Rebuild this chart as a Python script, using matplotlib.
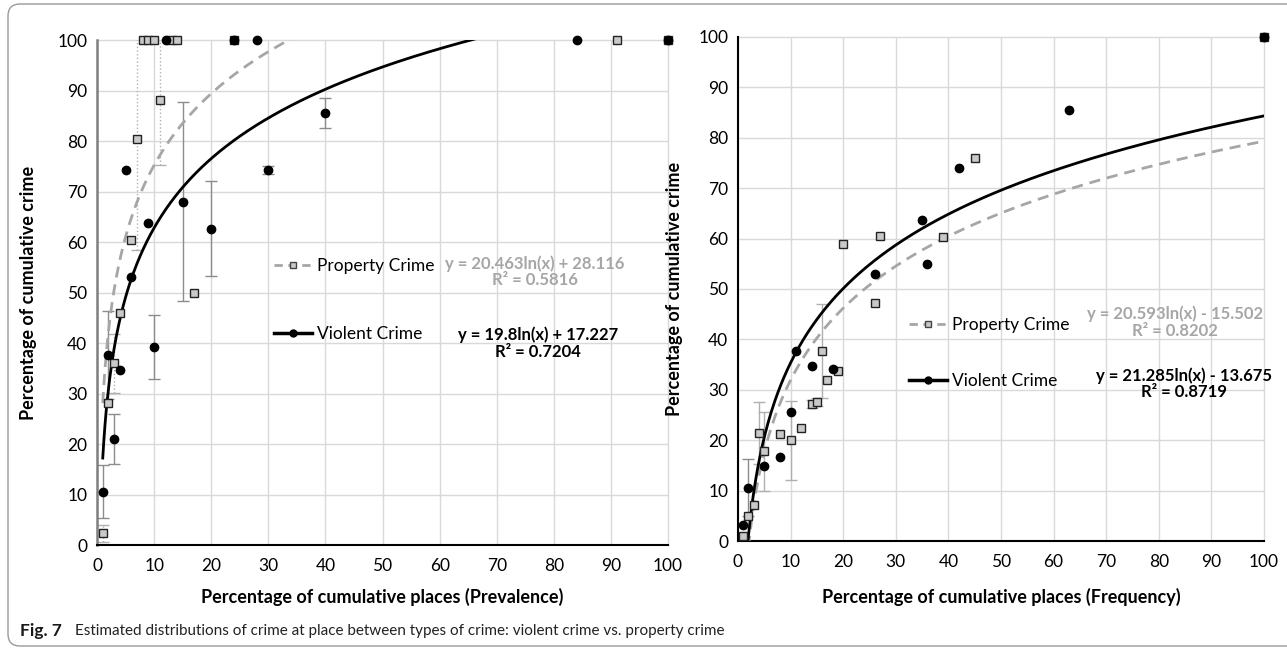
import numpy as np
import matplotlib.pyplot as plt
from matplotlib.lines import Line2D
from matplotlib.patches import FancyBboxPatch

plt.rcParams['font.family'] = ['Lato', 'DejaVu Sans']

# ---- Prevalence panel (left) ----
viol_prev_x = [1, 2, 3, 4, 5, 6, 9, 10, 12, 15, 20, 24, 28, 30, 40, 84, 100]
viol_prev_y = [10.6, 37.7, 21.0, 34.6, 74.2, 53.0, 63.8, 39.2, 100, 68.0, 62.6, 100, 100, 74.2, 85.6, 100, 100]
viol_prev_err = [5.2, 8.7, 5.0, 0, 0, 0, 0, 6.3, 0, 19.7, 9.4, 0, 0, 0.8, 3.0, 0, 0]

prop_prev_x = [1, 2, 3, 4, 6, 7, 8, 9, 10, 11, 13, 14, 17, 24, 91, 100]
prop_prev_y = [2.3, 28.2, 36.0, 46.0, 60.5, 80.5, 100, 100, 100, 88.2, 100, 100, 50.0, 100, 100, 100]
prop_prev_err = [1.7, 0, 5.8, 0, 0, 22.0, 0, 0, 0, 13.0, 0, 0, 0, 0, 0, 0]

# ---- Frequency panel (right) ----
viol_freq_x = [1, 2, 5, 8, 10, 11, 14, 18, 26, 35, 36, 42, 63, 100]
viol_freq_y = [3.1, 10.6, 14.9, 16.6, 25.6, 37.6, 34.7, 34.2, 53.0, 63.6, 55.0, 74.0, 85.5, 100]
viol_freq_err = [0, 5.7, 0, 0, 0, 0, 0, 0, 0, 0, 0, 0, 0, 0]

prop_freq_x = [1, 2, 3, 4, 5, 8, 10, 12, 14, 15, 16, 17, 19, 20, 26, 27, 39, 45, 100]
prop_freq_y = [0.9, 5.0, 7.2, 21.4, 17.8, 21.2, 20.0, 22.4, 27.1, 27.5, 37.7, 31.9, 33.8, 59.0,
               47.2, 60.6, 60.4, 75.9, 100]
prop_freq_err = [0, 0, 0, 6.2, 7.8, 0, 7.8, 0, 0.8, 0.8, 9.4, 0, 0, 0, 0, 0, 0, 0, 0]

# log trendlines (slope, intercept) as printed on the chart
viol_prev_fit = (19.8, 17.227)
prop_prev_fit = (20.463, 28.116)
viol_freq_fit = (21.285, -13.675)
prop_freq_fit = (20.593, -15.502)

eq_labels = {
    'prop_prev': 'y = 20.463ln(x) + 28.116\nR² = 0.5816',
    'viol_prev': 'y = 19.8ln(x) + 17.227\nR² = 0.7204',
    'prop_freq': 'y = 20.593ln(x) - 15.502\nR² = 0.8202',
    'viol_freq': 'y = 21.285ln(x) - 13.675\nR² = 0.8719',
}

ticks = list(range(0, 101, 10))

GREY_LINE = '#a6a6a6'
SQ_FACE = '#c9c9c9'
GRID = '#d9d9d9'


def draw_errors(ax, x, y, e, color, ls):
    x = np.asarray(x); y = np.asarray(y); e = np.asarray(e)
    m = e > 0
    if m.any():
        _, caps, bars = ax.errorbar(x[m], y[m], yerr=e[m], fmt='none', ecolor=color,
                                    elinewidth=1, capsize=4, capthick=1, zorder=2)
        for b in bars:
            b.set_linestyle(ls)


def draw_panel(ax, vx, vy, ve, px, py, pe, vfit, pfit, prop_err_style):
    draw_errors(ax, px, py, pe, '#b0b0b0', prop_err_style)
    draw_errors(ax, vx, vy, ve, '#8c8c8c', '-')

    xf = np.linspace(1, 100, 500)
    ax.plot(xf, pfit[0] * np.log(xf) + pfit[1], color=GREY_LINE, lw=2,
            ls=(0, (4, 2.5)), zorder=4)
    ax.plot(xf, vfit[0] * np.log(xf) + vfit[1], color='black', lw=2, zorder=4)

    ax.plot(px, py, ls='none', marker='s', ms=6, mfc=SQ_FACE, mec='#222222', mew=1,
            zorder=5, clip_on=False)
    ax.plot(vx, vy, ls='none', marker='o', ms=6, mfc='black', mec='black', zorder=6,
            clip_on=False)

    ax.set_xlim(0, 100)
    ax.set_ylim(0, 100)
    ax.set_xticks(ticks)
    ax.set_yticks(ticks)
    ax.grid(True, color=GRID, lw=1)
    ax.set_axisbelow(True)
    ax.tick_params(length=0, labelsize=12.5)
    ax.tick_params(axis='x', pad=9)
    ax.tick_params(axis='y', pad=7)
    for s in ['top', 'right']:
        ax.spines[s].set_visible(False)
    ax.spines['bottom'].set_color('black')
    ax.spines['bottom'].set_linewidth(1.5)
    for a in (ax.xaxis.get_gridlines()[-1], ax.yaxis.get_gridlines()[-1]):
        a.set_clip_on(False)

    handles = [
        Line2D([], [], color=GREY_LINE, lw=2, ls=(0, (3, 2)), marker='s', ms=5,
               mfc=SQ_FACE, mec='#444444'),
        Line2D([], [], color='black', lw=2.5, marker='o', ms=5, mfc='black'),
    ]
    return handles


fig = plt.figure(figsize=(12.87, 6.49), dpi=100)
ax1 = fig.add_axes([0.0754, 0.1602, 0.4437, 0.778])
ax2 = fig.add_axes([0.5734, 0.1664, 0.4087, 0.7766])

h1 = draw_panel(ax1, viol_prev_x, viol_prev_y, viol_prev_err,
                prop_prev_x, prop_prev_y, prop_prev_err,
                viol_prev_fit, prop_prev_fit, ':')
ax1.spines['left'].set_color('#7f7f7f')
ax1.spines['left'].set_linewidth(1.8)

h2 = draw_panel(ax2, viol_freq_x, viol_freq_y, viol_freq_err,
                prop_freq_x, prop_freq_y, prop_freq_err,
                viol_freq_fit, prop_freq_fit, '-')
ax2.spines['left'].set_color('black')
ax2.spines['left'].set_linewidth(1.5)

labels = ['Property Crime', 'Violent Crime']
leg_kw = dict(loc='center left', frameon=False, fontsize=12.5, handlelength=2.2,
              handletextpad=0.3, borderpad=0, borderaxespad=0)
ax1.legend(h1, labels, bbox_to_anchor=(0.31, 0.485), labelspacing=3.0, **leg_kw)
ax2.legend(h2, labels, bbox_to_anchor=(0.325, 0.373), labelspacing=2.35, **leg_kw)

eq_kw = dict(ha='center', va='center', fontsize=12, fontweight='bold', linespacing=1.05)
ax1.text(0.767, 0.541, eq_labels['prop_prev'], color=GREY_LINE, transform=ax1.transAxes, **eq_kw)
ax1.text(0.772, 0.400, eq_labels['viol_prev'], color='black', transform=ax1.transAxes, **eq_kw)
ax2.text(0.831, 0.434, eq_labels['prop_freq'], color=GREY_LINE, transform=ax2.transAxes, **eq_kw)
ax2.text(0.848, 0.312, eq_labels['viol_freq'], color='black', transform=ax2.transAxes, **eq_kw)

lab_kw = dict(fontsize=13, fontweight='bold')
ax1.set_xlabel('Percentage of cumulative places (Prevalence)', **lab_kw)
ax1.set_ylabel('Percentage of cumulative crime', **lab_kw)
ax2.set_xlabel('Percentage of cumulative places (Frequency)', **lab_kw)
ax2.set_ylabel('Percentage of cumulative crime', **lab_kw)
ax1.xaxis.set_label_coords(0.5, -0.085)
ax2.xaxis.set_label_coords(0.5, -0.093)
ax1.yaxis.set_label_coords(-0.105, 0.5)
ax2.yaxis.set_label_coords(-0.105, 0.5)

# caption
fig.text(20 / 1287, 1 - 631 / 649, 'Fig. 7', fontsize=12.5, fontweight='bold',
         va='center', color='#1a1a1a')
fig.text(75 / 1287, 1 - 631 / 649,
         'Estimated distributions of crime at place between types of crime: '
         'violent crime vs. property crime',
         fontsize=11, va='center', color='#222222')

# rounded frame around the figure
frame = FancyBboxPatch((0.08, 0.03), 13.2, 6.42, boxstyle='round,pad=0,rounding_size=0.12',
                       transform=fig.dpi_scale_trans, fill=False, ec='#9a9a9a', lw=1,
                       clip_on=False)
fig.patches.append(frame)

fig.savefig('out.png', dpi=100)
